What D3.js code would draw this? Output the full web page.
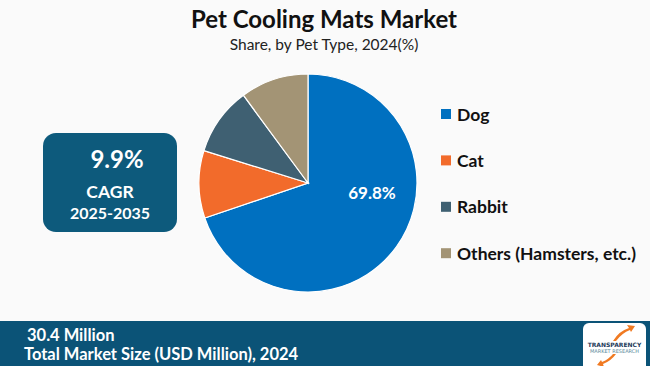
<!DOCTYPE html>
<html>
<head>
<meta charset="utf-8">
<script src="https://cdn.jsdelivr.net/npm/d3@7"></script>
<style>
  body { margin: 0; background: #fafafa; }
  svg { display: block; }
</style>
</head>
<body>
<div id="chart"></div>
<script>
// data
var categories = ["Dog", "Cat", "Rabbit", "Others (Hamsters, etc.)"];
var shares = [69.8, 10.0, 10.1, 10.1];
var colors = ["#0070c0", "#f26b2b", "#3f6072", "#a39475"];
var cagrValue = "9.9%";
var cagrPeriod = "2025-2035";
var marketSize = "30.4 Million";
var marketLabel = "Total Market Size (USD Million), 2024";

var svgWidth = 650;
var svgHeight = 366;

var svg = d3.select("#chart")
    .append("svg")
    .attr("width", svgWidth)
    .attr("height", svgHeight);

svg.append("rect")
    .attr("width", svgWidth)
    .attr("height", svgHeight)
    .attr("fill", "#fafafa");

// titles
svg.append("text")
    .attr("x", 324)
    .attr("y", 28)
    .attr("text-anchor", "middle")
    .attr("font-family", "Lato, 'Open Sans', sans-serif")
    .attr("font-weight", "bold")
    .attr("font-size", "24px")
    .attr("fill", "#111")
    .text("Pet Cooling Mats Market");

svg.append("text")
    .attr("x", 324)
    .attr("y", 50)
    .attr("text-anchor", "middle")
    .attr("font-family", "Lato, 'Open Sans', sans-serif")
    .attr("font-size", "15.5px")
    .attr("fill", "#222")
    .text("Share, by Pet Type, 2024(%)");

// pie
var cx = 308, cy = 183, radius = 109;

var pie = d3.pie().sort(null).value(d => d.value);
var arc = d3.arc().innerRadius(0).outerRadius(radius);

var pieData = pie(categories.map((c, i) => ({ name: c, value: shares[i], color: colors[i] })));

var pieGroup = svg.append("g")
    .attr("transform", `translate(${cx}, ${cy})`);

pieGroup.selectAll("path")
    .data(pieData)
    .enter()
    .append("path")
    .attr("d", arc)
    .attr("fill", d => d.data.color)
    .attr("stroke", "#ffffff")
    .attr("stroke-width", 1.2);

// label on the biggest slice
pieGroup.append("text")
    .attr("x", 64)
    .attr("y", 16)
    .attr("text-anchor", "middle")
    .attr("font-family", "Lato, 'Open Sans', sans-serif")
    .attr("font-weight", "bold")
    .attr("font-size", "17px")
    .attr("fill", "#ffffff")
    .text(shares[0].toFixed(1) + "%");

// legend
var legend = svg.append("g")
    .attr("transform", "translate(441, 114)");

var legendItems = legend.selectAll("g")
    .data(categories)
    .enter()
    .append("g")
    .attr("transform", (d, i) => `translate(0, ${i * 46.4})`);

legendItems.append("rect")
    .attr("x", 0)
    .attr("y", -5)
    .attr("width", 10)
    .attr("height", 10)
    .attr("fill", (d, i) => colors[i]);

legendItems.append("text")
    .attr("x", 16)
    .attr("y", 6.5)
    .attr("font-family", "Lato, 'Open Sans', sans-serif")
    .attr("font-weight", "bold")
    .attr("font-size", "17.5px")
    .attr("fill", "#111")
    .text(d => d);

// CAGR box
svg.append("rect")
    .attr("x", 43)
    .attr("y", 133)
    .attr("width", 134)
    .attr("height", 99)
    .attr("rx", 13)
    .attr("fill", "#0d5a7c");

svg.append("text")
    .attr("x", 117)
    .attr("y", 168)
    .attr("text-anchor", "middle")
    .attr("font-family", "Lato, 'Open Sans', sans-serif")
    .attr("font-weight", "bold")
    .attr("font-size", "24px")
    .attr("fill", "#ffffff")
    .text(cagrValue);

svg.append("text")
    .attr("x", 110)
    .attr("y", 198)
    .attr("text-anchor", "middle")
    .attr("font-family", "Lato, 'Open Sans', sans-serif")
    .attr("font-weight", "bold")
    .attr("font-size", "17.5px")
    .attr("fill", "#ffffff")
    .text("CAGR");

svg.append("text")
    .attr("x", 110)
    .attr("y", 219)
    .attr("text-anchor", "middle")
    .attr("font-family", "Lato, 'Open Sans', sans-serif")
    .attr("font-weight", "bold")
    .attr("font-size", "16px")
    .attr("fill", "#ffffff")
    .text(cagrPeriod);

// bottom band
svg.append("rect")
    .attr("x", 0)
    .attr("y", 321)
    .attr("width", svgWidth)
    .attr("height", svgHeight - 321)
    .attr("fill", "#0b5377");

svg.append("text")
    .attr("x", 27)
    .attr("y", 341)
    .attr("font-family", "Lato, 'Open Sans', sans-serif")
    .attr("font-weight", "bold")
    .attr("font-size", "16.5px")
    .attr("fill", "#ffffff")
    .text(marketSize);

svg.append("text")
    .attr("x", 24)
    .attr("y", 360)
    .attr("font-family", "Lato, 'Open Sans', sans-serif")
    .attr("font-weight", "bold")
    .attr("font-size", "16.5px")
    .attr("fill", "#ffffff")
    .text(marketLabel);

// logo
var logo = svg.append("g").attr("transform", "translate(583, 323)");
logo.append("rect")
    .attr("width", 63)
    .attr("height", 48)
    .attr("rx", 6)
    .attr("fill", "#ffffff");
logo.append("path")
    .attr("d", "M30,18 Q36,8 46,5 L44,2 L52,3 L48,9 L47,7 Q39,10 33,18 Z")
    .attr("fill", "#f07a22");
logo.append("path")
    .attr("d", "M33,31 Q28,38 20,41 L21,44 L14,42 L18,37 L19,39 Q26,36 30,31 Z")
    .attr("fill", "#f07a22");
logo.append("text")
    .attr("x", 31.5)
    .attr("y", 24)
    .attr("text-anchor", "middle")
    .attr("font-family", "'DejaVu Sans', sans-serif")
    .attr("font-weight", "bold")
    .attr("font-size", "6px")
    .attr("fill", "#1d3a5a")
    .text("TRANSPARENCY");
logo.append("text")
    .attr("x", 31.5)
    .attr("y", 30)
    .attr("text-anchor", "middle")
    .attr("font-family", "'DejaVu Sans', sans-serif")
    .attr("font-size", "5px")
    .attr("fill", "#5a8a9a")
    .text("MARKET RESEARCH");
</script>
</body>
</html>
